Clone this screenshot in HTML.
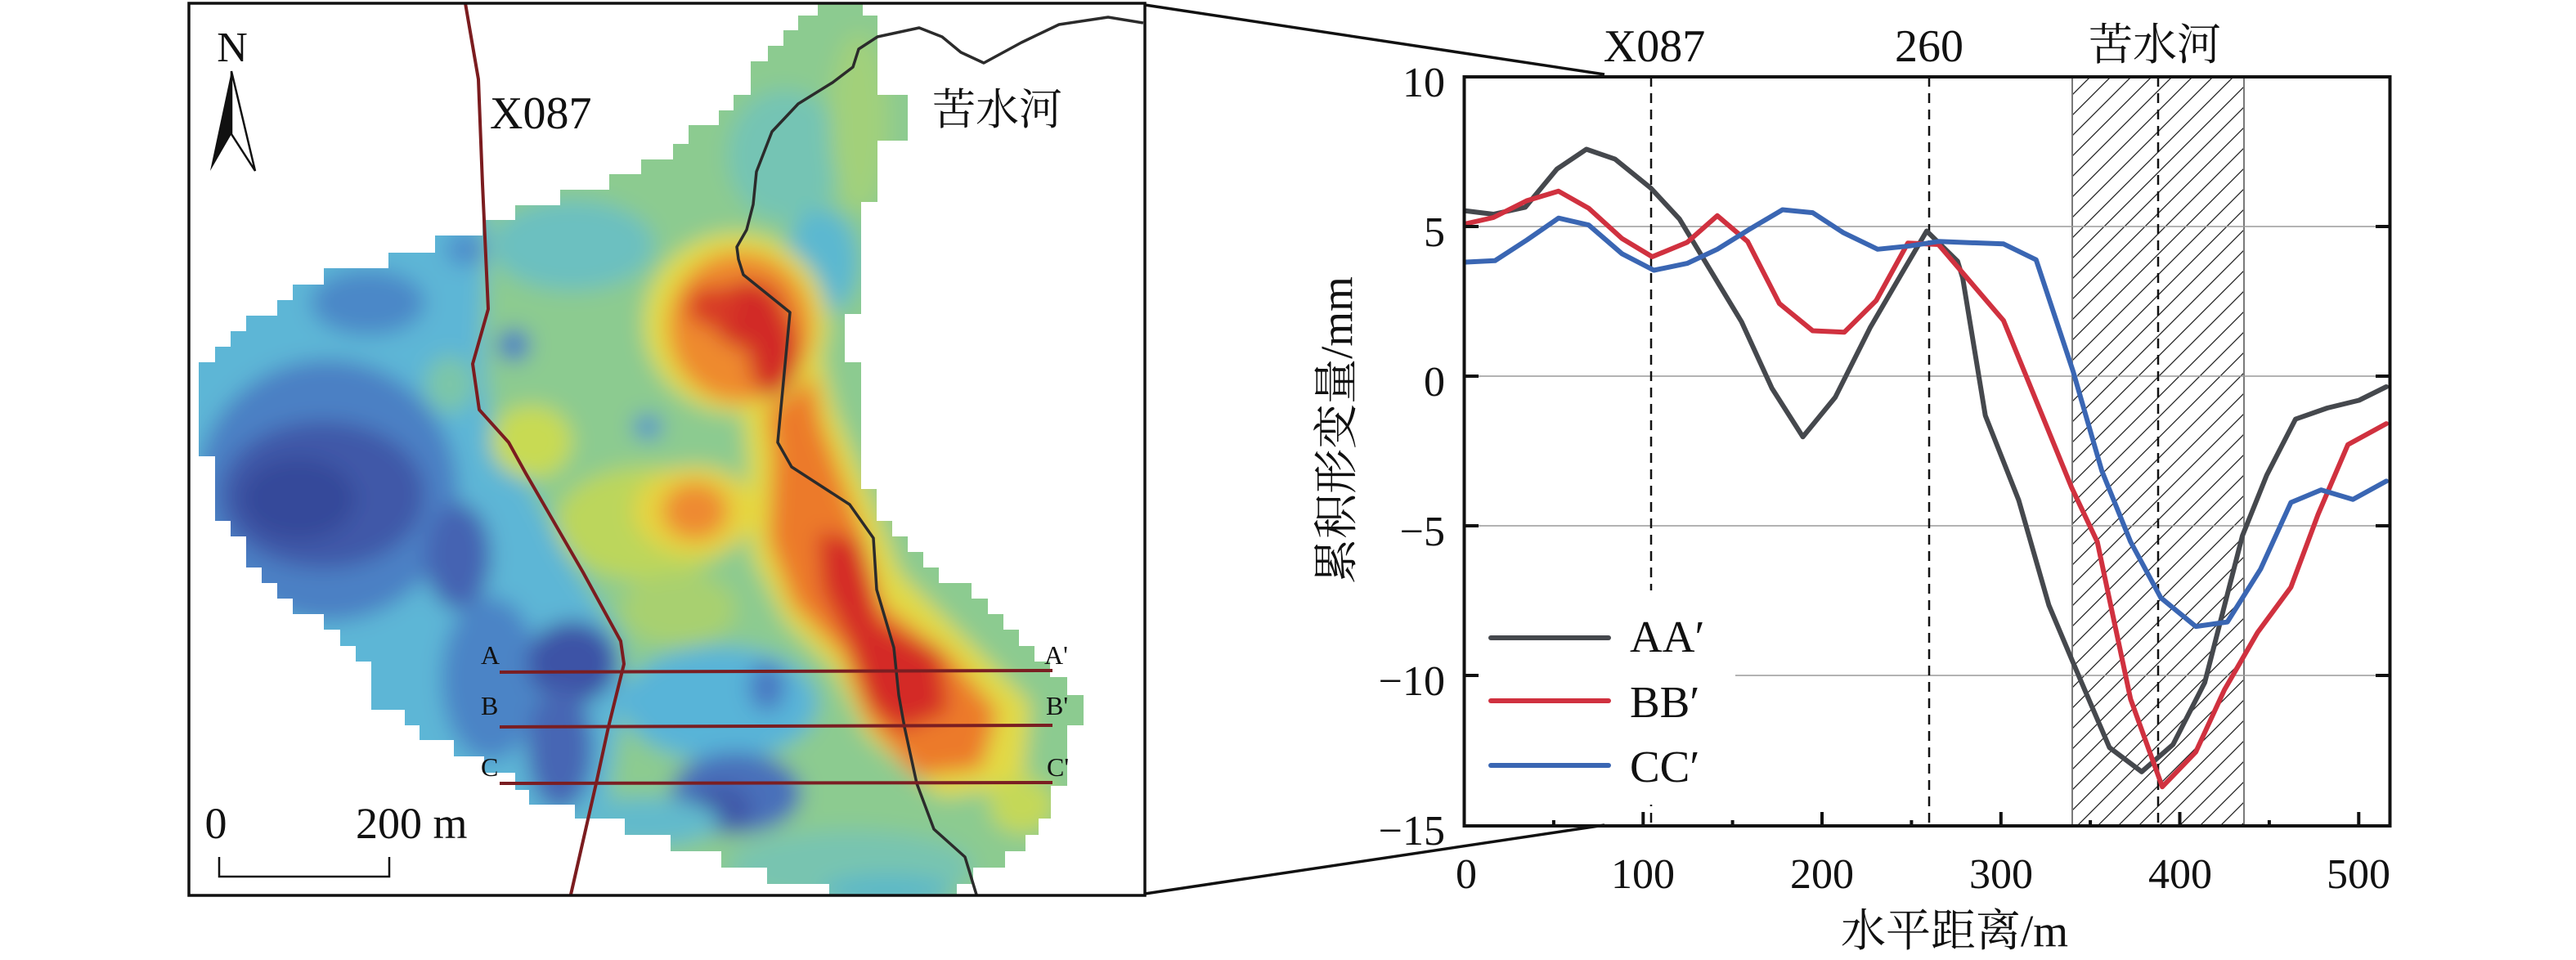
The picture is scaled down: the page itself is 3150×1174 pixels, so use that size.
<!DOCTYPE html>
<html>
<head>
<meta charset="utf-8">
<style>
html,body{margin:0;padding:0;background:#fff;}
svg{display:block}
</style>
</head>
<body>
<svg width="3150" height="1174" viewBox="0 0 3150 1174" xmlns="http://www.w3.org/2000/svg">
<defs>
<clipPath id="mapclip"><polygon points="1018,4 1055,4 1055,19 1073,19 1073,116 1110,116 1110,172 1073,172 1073,247 1053,247 1053,384 1033,384 1033,443 1053,443 1053,598 1072,598 1072,637 1091,637 1091,656 1110,656 1110,675 1129,675 1129,694 1148,694 1148,713 1188,713 1188,732 1208,732 1208,751 1227,751 1227,770 1246,770 1246,790 1265,790 1265,809 1284,809 1284,828 1305,828 1305,850 1325,850 1325,887 1305,887 1305,961 1285,961 1285,1001 1270,1001 1270,1021 1254,1021 1254,1041 1229,1041 1229,1061 1190,1061 1190,1081 1170,1081 1170,1096 1014,1096 1014,1081 938,1081 938,1061 882,1061 882,1041 820,1041 820,1021 764,1021 764,1001 703,1001 703,984 647,984 647,966 630,966 630,945 592,945 592,925 555,925 555,905 513,905 513,887 495,887 495,868 454,868 454,809 435,809 435,790 416,790 416,770 396,770 396,751 358,751 358,732 339,732 339,713 320,713 320,694 301,694 301,656 282,656 282,637 263,637 263,558 243,558 243,443 263,443 263,424 282,424 282,405 301,405 301,386 339,386 339,367 358,367 358,348 396,348 396,328 475,328 475,309 532,309 532,288 590,288 590,269 630,269 630,251 685,251 685,232 745,232 745,213 784,213 784,195 823,195 823,176 842,176 842,153 879,153 879,135 897,135 897,116 918,116 918,75 939,75 939,56 958,56 958,37 976,37 976,19 1000,19 1000,4"/></clipPath>
<filter id="blur" x="150" y="-50" width="1350" height="1250" filterUnits="userSpaceOnUse"><feGaussianBlur stdDeviation="13"/></filter>
<pattern id="hatch" patternUnits="userSpaceOnUse" width="25" height="25"><path d="M0,25 L25,0 M-6,6 L6,-6 M19,31 L31,19" stroke="#222" stroke-width="1.3" fill="none"/></pattern>
<clipPath id="plotclip"><rect x="1790" y="94" width="1133" height="916"/></clipPath>
</defs>

<rect x="0" y="0" width="3150" height="1174" fill="#fff"/>

<!-- ================= MAP ================= -->
<g clip-path="url(#mapclip)">
 <g filter="url(#blur)">
  <rect x="200" y="-20" width="1220" height="1140" fill="#5db6d6"/>
  <polygon points="585,-20 1420,-20 1420,1120 740,1120 745,960 765,840 760,784 700,690 640,580 600,520 590,420 595,300 590,200" fill="#8ccb90"/>
  <ellipse cx="700" cy="300" rx="100" ry="55" fill="#6cc0c0"/>
  <ellipse cx="960" cy="190" rx="70" ry="80" fill="#74c4b4"/>
  <ellipse cx="1050" cy="150" rx="35" ry="110" fill="#a2d07a"/>
  <ellipse cx="1005" cy="320" rx="45" ry="65" fill="#5cb8d0"/>
  <ellipse cx="550" cy="470" rx="30" ry="35" fill="#7cc6a8"/>
  <ellipse cx="650" cy="540" rx="50" ry="45" fill="#c8da52"/>
  <ellipse cx="790" cy="640" rx="110" ry="70" fill="#bcd65c"/>
  <ellipse cx="830" cy="745" rx="70" ry="45" fill="#a8d070"/>
  <!-- river band (under core) -->
  <polygon points="900,420 1000,420 1020,500 1070,620 1100,700 1180,780 1260,860 1250,960 1150,975 1060,900 1020,820 960,760 920,680 915,560" fill="#e2da44"/>
  <polygon points="930,440 990,440 1005,520 1050,640 1080,740 1160,800 1220,870 1200,940 1120,950 1060,880 1030,800 970,740 940,660 945,560" fill="#ec7a2c"/>
  <!-- top core -->
  <ellipse cx="900" cy="395" rx="112" ry="110" fill="#e2dc44"/>
  <ellipse cx="905" cy="400" rx="88" ry="92" fill="#ee8a2e"/>
  <ellipse cx="915" cy="385" rx="45" ry="42" fill="#d22a26"/>
  <ellipse cx="945" cy="430" rx="30" ry="55" fill="#d22a26"/>
  <ellipse cx="870" cy="375" rx="30" ry="25" fill="#d83a28"/>
  <ellipse cx="792" cy="522" rx="18" ry="15" fill="#4f90cc"/>
  <!-- orange blob middle -->
  <ellipse cx="850" cy="625" rx="75" ry="55" fill="#e6d440"/>
  <ellipse cx="850" cy="625" rx="40" ry="35" fill="#ee8a30"/>
  <polygon points="1000,650 1050,660 1075,760 1150,800 1160,870 1100,895 1060,860 1040,790 1005,720" fill="#d42a26"/>
  <!-- west blue -->
  <ellipse cx="400" cy="600" rx="160" ry="160" fill="#4b80c4"/>
  <ellipse cx="395" cy="605" rx="125" ry="90" fill="#3f58a8"/>
  <ellipse cx="365" cy="610" rx="70" ry="50" fill="#36489a"/>
  <ellipse cx="450" cy="370" rx="70" ry="40" fill="#4c88c8"/>
  <ellipse cx="560" cy="680" rx="40" ry="65" fill="#4563b2"/>
  <ellipse cx="628" cy="422" rx="20" ry="20" fill="#4a7cc4"/>
  <ellipse cx="570" cy="305" rx="25" ry="20" fill="#4d8ccb"/>
  <!-- south-west blue -->
  <ellipse cx="600" cy="830" rx="60" ry="100" fill="#4c84c6"/>
  <ellipse cx="880" cy="860" rx="120" ry="70" fill="#58b4d8"/>
  <ellipse cx="700" cy="810" rx="55" ry="50" fill="#3d52a6"/>
  <ellipse cx="685" cy="915" rx="40" ry="75" fill="#4666b4"/>
  <ellipse cx="900" cy="970" rx="80" ry="50" fill="#4a70ba"/>
  <ellipse cx="880" cy="990" rx="40" ry="30" fill="#3f58a8"/>
  <ellipse cx="938" cy="840" rx="22" ry="30" fill="#4a78c2"/>
  <!-- south/right -->
  <ellipse cx="1250" cy="985" rx="40" ry="35" fill="#c4d858"/>
  <ellipse cx="1040" cy="1060" rx="150" ry="45" fill="#78c4b0"/>
  <ellipse cx="1085" cy="1090" rx="80" ry="20" fill="#5cb8c8"/>
  <ellipse cx="790" cy="1005" rx="90" ry="30" fill="#62bacc"/>
 </g>
</g>

<!-- road X087 -->
<polyline points="569,4 585,97 590,225 597,378 578,445 586,501 622,541 643,579 713,700 759,784 763,812 744,889 729,958 698,1094" fill="none" stroke="#7b1c1f" stroke-width="4" stroke-linejoin="round"/>
<!-- river -->
<polyline points="1398,28 1355,21 1295,30 1249,52 1203,77 1175,64 1152,45 1124,34 1073,45 1050,60 1043,82 1018,101 976,127 944,161 925,210 921,250 913,281 901,302 903,317 909,336 966,382 951,541 968,571 1039,617 1068,658 1072,721 1093,792 1099,850 1106,889 1121,958 1142,1014 1180,1048 1194,1094" fill="none" stroke="#2b2b2b" stroke-width="3.5" stroke-linejoin="round"/>
<!-- profile lines -->
<line x1="611" y1="822" x2="1287" y2="820" stroke="#7a1e22" stroke-width="4"/>
<line x1="611" y1="889" x2="1287" y2="887" stroke="#7a1e22" stroke-width="4"/>
<line x1="611" y1="958" x2="1287" y2="957" stroke="#7a1e22" stroke-width="4"/>
<g font-family="'Liberation Serif', serif" font-size="32" fill="#111">
<text x="588" y="812">A</text>
<text x="1277" y="812">A'</text>
<text x="588" y="874">B</text>
<text x="1279" y="874">B'</text>
<text x="588" y="949">C</text>
<text x="1280" y="949">C'</text>
</g>
<!-- map labels -->
<text x="599" y="157" font-family="'Liberation Serif', serif" font-size="56" fill="#111">X087</text>
<text x="1140" y="152" font-family="'Liberation Serif', 'Noto Serif CJK SC', serif" font-size="53" fill="#111">苦水河</text>
<!-- north arrow -->
<text x="284" y="75" text-anchor="middle" font-family="'Liberation Serif', serif" font-size="52" fill="#111">N</text>
<polygon points="283,87 257,209 283,164" fill="#111"/>
<polygon points="283,87 312,209 283,164" fill="none" stroke="#111" stroke-width="2.5" stroke-linejoin="miter"/>
<!-- scale bar -->
<text x="264" y="1025" text-anchor="middle" font-family="'Liberation Serif', serif" font-size="54" fill="#111">0</text>
<text x="435" y="1025" font-family="'Liberation Serif', serif" font-size="54" fill="#111">200 m</text>
<path d="M268,1048 V1072 H476 V1048" fill="none" stroke="#111" stroke-width="2.5"/>
<!-- map frame -->
<rect x="231" y="4" width="1169" height="1091" fill="none" stroke="#111" stroke-width="3.5"/>

<!-- connecting lines -->
<line x1="1400" y1="6" x2="1962" y2="91" stroke="#111" stroke-width="3.5"/>
<line x1="1400" y1="1093" x2="1962" y2="1009" stroke="#111" stroke-width="3.5"/>

<!-- ================= CHART ================= -->
<!-- hatch -->
<rect x="2534" y="94" width="210" height="916" fill="url(#hatch)"/>
<line x1="2534" y1="94" x2="2534" y2="1010" stroke="#7a7a7a" stroke-width="2"/>
<line x1="2744" y1="94" x2="2744" y2="1010" stroke="#7a7a7a" stroke-width="2"/>
<!-- grid -->
<g stroke="#9a9a9a" stroke-width="1.6">
<line x1="1790" y1="277" x2="2923" y2="277"/>
<line x1="1790" y1="460" x2="2923" y2="460"/>
<line x1="1790" y1="643" x2="2923" y2="643"/>
<line x1="1790" y1="826" x2="2923" y2="826"/>
</g>
<!-- dashed -->
<g stroke="#111" stroke-width="2.5" stroke-dasharray="12 8">
<line x1="2019" y1="94" x2="2019" y2="1010"/>
<line x1="2359" y1="94" x2="2359" y2="1010"/>
<line x1="2639" y1="94" x2="2639" y2="1010"/>
</g>
<!-- series -->
<g clip-path="url(#plotclip)" fill="none" stroke-width="6" stroke-linejoin="round" stroke-linecap="round">
<polyline stroke="#45484d" points="1790.5,257.6 1826.2,262.0 1865.1,253.5 1904.0,206.6 1939.9,182.5 1974.9,194.6 2018.7,230.1 2053.7,267.8 2090.2,328.3 2129.6,393.5 2166.8,474.9 2204.6,534.2 2244.2,485.8 2286.8,400.8 2325.6,334.2 2356.0,282.5 2393.8,319.5 2400.0,339.7 2427.7,508.2 2468.6,611.9 2505.4,740.1 2535.1,810.5 2579.5,914.2 2618.9,943.8 2657.2,910.5 2696.0,834.7 2742.1,655.1 2771.8,581.1 2807.0,512.6 2845.8,499.0 2884.7,489.5 2918.0,473.0"/>
<polyline stroke="#d0313f" points="1790.5,274.1 1826.2,266.0 1866.8,245.5 1905.8,233.8 1942.7,254.7 1983.4,291.7 2020.4,314.0 2063.1,296.4 2100.0,263.8 2137.0,295.3 2175.9,371.2 2216.6,404.5 2255.3,406.3 2294.3,367.5 2333.0,297.2 2370.4,299.0 2450.0,392.1 2533.2,596.1 2564.6,662.5 2605.3,854.8 2644.1,962.2 2685.0,919.7 2720.0,843.8 2760.6,773.5 2801.4,718.1 2834.6,629.1 2871.1,543.7 2918.0,518.1"/>
<polyline stroke="#3a66b3" points="1790.5,320.6 1828.1,318.8 1867.1,293.5 1905.8,266.7 1942.7,275.2 1983.4,310.3 2022.4,330.5 2063.1,322.1 2100.0,304.8 2138.8,280.7 2179.7,256.5 2216.6,260.1 2253.6,284.3 2296.0,304.8 2335.0,300.8 2370.2,295.3 2450.0,298.3 2489.8,317.7 2535.1,454.3 2570.1,575.6 2605.3,662.5 2642.3,731.0 2685.0,766.1 2723.7,760.6 2764.4,695.8 2801.4,614.5 2838.3,599.1 2877.2,610.8 2918.0,588.4"/>
</g>
<!-- legend -->
<rect x="1794" y="722" width="328" height="262" fill="#fff"/>
<g stroke-width="6" stroke-linecap="round">
<line x1="1823" y1="780" x2="1967" y2="780" stroke="#45484d"/>
<line x1="1823" y1="857" x2="1967" y2="857" stroke="#d0313f"/>
<line x1="1823" y1="936" x2="1967" y2="936" stroke="#3a66b3"/>
</g>
<g font-family="'Liberation Serif', 'DejaVu Serif', serif" font-size="55" fill="#111">
<text x="1993" y="797">AA′</text>
<text x="1993" y="877">BB′</text>
<text x="1993" y="956">CC′</text>
</g>
<!-- axes frame -->
<rect x="1790.5" y="94" width="1132" height="916" fill="none" stroke="#111" stroke-width="4"/>
<!-- ticks -->
<g stroke="#111" stroke-width="4">
<line x1="1790" y1="277" x2="1808" y2="277"/>
<line x1="1790" y1="460" x2="1808" y2="460"/>
<line x1="1790" y1="643" x2="1808" y2="643"/>
<line x1="1790" y1="826" x2="1808" y2="826"/>
<line x1="2923" y1="277" x2="2905" y2="277"/>
<line x1="2923" y1="460" x2="2905" y2="460"/>
<line x1="2923" y1="643" x2="2905" y2="643"/>
<line x1="2923" y1="826" x2="2905" y2="826"/>
<line x1="2009.3" y1="1010" x2="2009.3" y2="993"/>
<line x1="2228" y1="1010" x2="2228" y2="993"/>
<line x1="2446.8" y1="1010" x2="2446.8" y2="993"/>
<line x1="2665.5" y1="1010" x2="2665.5" y2="993"/>
<line x1="2884.3" y1="1010" x2="2884.3" y2="993"/>
<line x1="1899.9" y1="1010" x2="1899.9" y2="1003"/>
<line x1="2118.6" y1="1010" x2="2118.6" y2="1003"/>
<line x1="2337.4" y1="1010" x2="2337.4" y2="1003"/>
<line x1="2556.1" y1="1010" x2="2556.1" y2="1003"/>
<line x1="2774.9" y1="1010" x2="2774.9" y2="1003"/>
</g>
<!-- tick labels -->
<g font-family="'Liberation Serif', serif" font-size="52" fill="#111" text-anchor="end">
<text x="1767" y="118">10</text>
<text x="1767" y="301">5</text>
<text x="1767" y="484">0</text>
<text x="1767" y="667">−5</text>
<text x="1767" y="850">−10</text>
<text x="1767" y="1033">−15</text>
</g>
<g font-family="'Liberation Serif', serif" font-size="52" fill="#111" text-anchor="middle">
<text x="1793" y="1086">0</text>
<text x="2009" y="1086">100</text>
<text x="2228" y="1086">200</text>
<text x="2447" y="1086">300</text>
<text x="2666" y="1086">400</text>
<text x="2884" y="1086">500</text>
</g>
<!-- top labels -->
<g font-family="'Liberation Serif', 'Noto Serif CJK SC', serif" font-size="56" fill="#111" text-anchor="middle">
<text x="2023" y="75">X087</text>
<text x="2359" y="75">260</text>
<text x="2635" y="73" font-size="54">苦水河</text>
</g>
<!-- axis titles -->
<text x="2390" y="1157" text-anchor="middle" font-family="'Liberation Serif', 'Noto Serif CJK SC', serif" font-size="55" fill="#111">水平距离/m</text>
<text transform="translate(1653,526) rotate(-90)" text-anchor="middle" font-family="'Liberation Serif', 'Noto Serif CJK SC', serif" font-size="55" fill="#111">累积形变量/mm</text>
</svg>
</body>
</html>
